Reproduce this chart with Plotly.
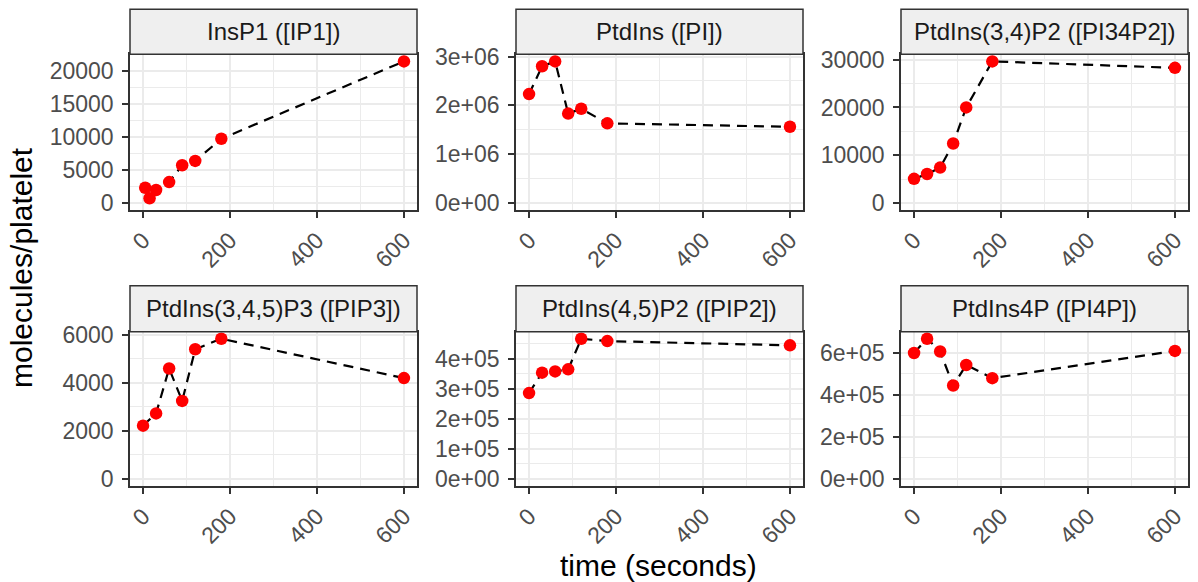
import plotly.graph_objects as go

# ---- data ----
panel_titles = ["InsP1 ([IP1])", "PtdIns ([PI])", "PtdIns(3,4)P2 ([PI34P2])",
                "PtdIns(3,4,5)P3 ([PIP3])", "PtdIns(4,5)P2 ([PIP2])", "PtdIns4P ([PI4P])"]

time_std = [0, 30, 60, 90, 120, 180, 600]
time_ip1 = [5, 15, 30, 60, 90, 120, 180, 600]

ip1 = [2300, 700, 1950, 3150, 5700, 6350, 9700, 21400]
pi = [2.23e6, 2.80e6, 2.90e6, 1.83e6, 1.93e6, 1.63e6, 1.56e6]
pi34p2 = [5050, 6050, 7400, 12450, 20000, 29650, 28300]
pip3 = [2220, 2730, 4600, 3250, 5400, 5840, 4200]
pip2 = [2.86e5, 3.54e5, 3.58e5, 3.65e5, 4.67e5, 4.59e5, 4.45e5]
pi4p = [6.00e5, 6.68e5, 6.07e5, 4.45e5, 5.43e5, 4.80e5, 6.10e5]

x_ticks = [0, 200, 400, 600]
x_ticklabels = ["0", "200", "400", "600"]

y_tickvals = [
    [0, 5000, 10000, 15000, 20000],
    [0, 1e6, 2e6, 3e6],
    [0, 10000, 20000, 30000],
    [0, 2000, 4000, 6000],
    [0, 1e5, 2e5, 3e5, 4e5],
    [0, 2e5, 4e5, 6e5],
]
y_ticklabels = [
    ["0", "5000", "10000", "15000", "20000"],
    ["0e+00", "1e+06", "2e+06", "3e+06"],
    ["0", "10000", "20000", "30000"],
    ["0", "2000", "4000", "6000"],
    ["0e+00", "1e+05", "2e+05", "3e+05", "4e+05"],
    ["0e+00", "2e+05", "4e+05", "6e+05"],
]

xs = [time_ip1, time_std, time_std, time_std, time_std, time_std]
ys = [ip1, pi, pi34p2, pip3, pip2, pi4p]

# ---- layout geometry (pixels) ----
W, H = 1198, 582
lefts = [130, 516, 901]
pw = 287
rows = [dict(strip=(9.3, 54.3), plot=(54.3, 210)),
        dict(strip=(285.7, 331.7), plot=(331.7, 486))]

FONT = "Liberation Sans, Arial, Helvetica, sans-serif"
BORDER = "#333333"
GRID = "#EBEBEB"

fig = go.Figure()
shapes = []
annotations = []

for i in range(6):
    r, c = divmod(i, 3)
    sfx = "" if i == 0 else str(i + 1)
    x0, x1 = lefts[c] / W, (lefts[c] + pw) / W
    pt, pb = rows[r]["plot"]
    st, sb = rows[r]["strip"]
    y0, y1 = 1 - pb / H, 1 - pt / H

    fig.add_trace(go.Scatter(
        x=xs[i], y=ys[i], mode="lines+markers",
        line=dict(color="black", width=2.2, dash="10px,7px"),
        marker=dict(color="#FF0000", size=12.5),
        xaxis="x" + sfx, yaxis="y" + sfx, showlegend=False,
        hoverinfo="x+y",
    ))

    lo = min(0, min(ys[i]))
    hi = max(ys[i])
    pad = 0.05 * (hi - lo)
    ydt = y_tickvals[i][1] - y_tickvals[i][0]

    common = dict(
        automargin=False,
        showline=True, mirror=True, linecolor=BORDER, linewidth=1.5,
        ticks="outside", ticklen=6, tickwidth=1.5, tickcolor=BORDER,
        tickfont=dict(family=FONT, size=23, color="#4D4D4D"),
        showgrid=True, gridcolor=GRID, gridwidth=2,
        zeroline=False, fixedrange=True,
    )
    fig.layout["xaxis" + sfx] = dict(
        common, domain=[x0, x1], anchor="y" + sfx, range=[-30, 630],
        tickmode="array", tickvals=x_ticks, ticktext=x_ticklabels,
        tickangle=-45,
        minor=dict(tickmode="linear", tick0=0, dtick=100, showgrid=True,
                   gridcolor=GRID, gridwidth=1, ticklen=0),
    )
    fig.layout["yaxis" + sfx] = dict(
        common, domain=[y0, y1], anchor="x" + sfx, range=[lo - pad, hi + pad],
        tickmode="array", tickvals=y_tickvals[i], ticktext=y_ticklabels[i],
        ticklabelstandoff=4,
        minor=dict(tickmode="linear", tick0=0, dtick=ydt / 2, showgrid=True,
                   gridcolor=GRID, gridwidth=1, ticklen=0),
    )

    shapes.append(dict(type="rect", xref="paper", yref="paper",
                       x0=x0, x1=x1, y0=1 - sb / H, y1=1 - st / H,
                       fillcolor="#EFEFEF", line=dict(color=BORDER, width=1.5),
                       layer="above"))
    annotations.append(dict(text=panel_titles[i], xref="paper", yref="paper",
                            x=(x0 + x1) / 2, y=1 - (st + sb) / 2 / H,
                            xanchor="center", yanchor="middle", showarrow=False,
                            font=dict(family=FONT, size=24, color="#1A1A1A")))

annotations.append(dict(text="time (seconds)", xref="paper", yref="paper",
                        x=658 / W, y=1 - 565 / H, xanchor="center", yanchor="middle",
                        showarrow=False, font=dict(family=FONT, size=30, color="black")))
annotations.append(dict(text="molecules/platelet", xref="paper", yref="paper",
                        x=22 / W, y=1 - 268 / H, xanchor="center", yanchor="middle",
                        textangle=-90, showarrow=False,
                        font=dict(family=FONT, size=30, color="black")))

fig.update_layout(
    template="none",
    width=W, height=H, autosize=False,
    margin=dict(l=0, r=0, t=0, b=0, pad=0),
    paper_bgcolor="white", plot_bgcolor="white",
    shapes=shapes, annotations=annotations,
    font=dict(family=FONT),
    showlegend=False,
)

fig.write_html("out.html",
               config={"displayModeBar": False},
               post_script="document.body.style.margin='0';document.body.style.overflow='hidden';")
